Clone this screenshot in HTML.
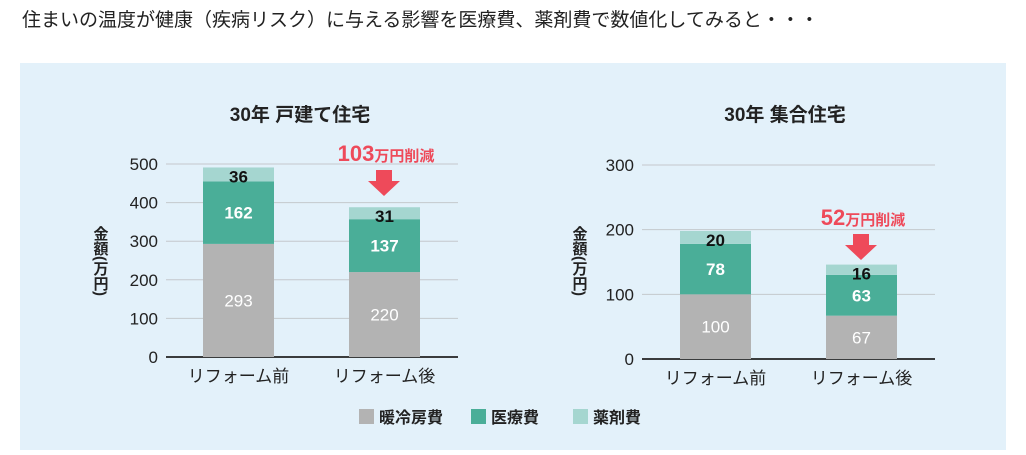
<!DOCTYPE html>
<html><head><meta charset="utf-8"><style>
body{margin:0;width:1026px;height:450px;background:#fff;overflow:hidden;font-family:"Liberation Sans","Noto Sans CJK JP",sans-serif;}
svg text{font-family:"Liberation Sans","Noto Sans CJK JP",sans-serif;}
</style></head><body>
<svg width="1026" height="450">
<text x="22" y="26" font-size="19" fill="#222">住まいの温度が健康（疾病リスク）に与える影響を医療費、薬剤費で数値化してみると・・・</text>
<rect x="20" y="63" width="986" height="387" fill="#e3f1fa"/>
<g id="c1"></g><g id="c2"></g>
<g>
<rect x="359" y="409" width="15" height="15" fill="#b3b3b3"/>
<text x="379" y="423" font-size="16" font-weight="bold" fill="#222">暖冷房費</text>
<rect x="471" y="409" width="15" height="15" fill="#4aae98"/>
<text x="491" y="423" font-size="16" font-weight="bold" fill="#222">医療費</text>
<rect x="573" y="409" width="15" height="15" fill="#a5d6d0"/>
<text x="593" y="423" font-size="16" font-weight="bold" fill="#222">薬剤費</text>
</g>
</svg>
<script>
const categories=["リフォーム前","リフォーム後"];
const detachedHeating=[293,220];
const detachedMedical=[162,137];
const detachedDrug=[36,31];
const detachedTicks=[0,100,200,300,400,500];
const apartHeating=[100,67];
const apartMedical=[78,63];
const apartDrug=[20,16];
const apartTicks=[0,100,200,300];
const NS="http://www.w3.org/2000/svg";
function mk(p,tag,a,txt){const e=document.createElementNS(NS,tag);for(const k in a)e.setAttribute(k,a[k]);if(txt!=null)e.textContent=txt;p.appendChild(e);return e;}
function draw(gid,o){
 const g=document.getElementById(gid);
 const y=v=>o.y0-(v/o.max)*(o.y0-o.yTop);
 const t=mk(g,'text',{x:o.cx,y:o.titleY,'text-anchor':'middle','font-size':19,'font-weight':'bold',fill:'#222'},o.title);
 
 
 o.ticks.forEach(v=>{
  const l=mk(g,'line',{x1:o.x0,x2:o.x1,y1:y(v),y2:y(v),stroke:v===0?'#222':'#c4c8cc','stroke-width':v===0?1.8:1});
  
  
  const tl=mk(g,'text',{x:o.x0-8,y:y(v)+6,'text-anchor':'end','font-size':17,fill:'#222'},v);
  
  
 });
 const yt=mk(g,'text',{x:o.ytx,y:o.yty,'font-size':15,'font-weight':'bold',fill:'#222','writing-mode':'tb'},'金額(万円)');
 
 
 categories.forEach((c,i)=>{
  const bx=o.bars[i],bw=71;
  const segs=[[o.h[i],'#b3b3b3','#fff','heating'],[o.m[i],'#4aae98','#fff','medical'],[o.d[i],'#a5d6d0','#111','drug']];
  let base=0;
  segs.forEach(s=>{
   const r=mk(g,'rect',{x:bx,y:y(base+s[0]),width:bw,height:y(base)-y(base+s[0]),fill:s[1]});
   
   
   const ty=s[3]==='drug'?y(base+s[0])+15:(y(base)+y(base+s[0]))/2+6;
   const lt=mk(g,'text',{x:bx+bw/2,y:ty,'text-anchor':'middle','font-size':17,'font-weight':s[3]==='heating'?'normal':'bold',fill:s[2]},s[0]);
   
   
   base+=s[0];
  });
  const cl=mk(g,'text',{x:bx+bw/2,y:o.y0+25,'text-anchor':'middle','font-size':17,fill:'#222'},c);
  
  
 });
 const ax=o.bars[1]+35;
 const arr=mk(g,'path',{d:`M${ax-8} ${o.ay} h16 v11 h8 l-16 15 l-16 -15 h8 z`,fill:'#ee4a5a'});
 
 
 const rt=mk(g,'text',{x:ax+2,y:o.ay-9,'text-anchor':'middle','font-weight':'bold',fill:'#ee4a5a'});
 
 
 mk(rt,'tspan',{'font-size':22},o.red);
 mk(rt,'tspan',{'font-size':15},'万円削減');
}
const sum=(a,b,c,i)=>a[i]+b[i]+c[i];
draw('c1',{title:'30年 戸建て住宅',cx:300,titleY:121,x0:166,x1:458,y0:357,yTop:164,max:500,ticks:detachedTicks,bars:[203,349],h:detachedHeating,m:detachedMedical,d:detachedDrug,ytx:100,yty:226,ay:170,red:sum(detachedHeating,detachedMedical,detachedDrug,0)-sum(detachedHeating,detachedMedical,detachedDrug,1)});
draw('c2',{title:'30年 集合住宅',cx:785,titleY:121,x0:642,x1:935,y0:359,yTop:165,max:300,ticks:apartTicks,bars:[680,826],h:apartHeating,m:apartMedical,d:apartDrug,ytx:579,yty:226,ay:234,red:sum(apartHeating,apartMedical,apartDrug,0)-sum(apartHeating,apartMedical,apartDrug,1)});
</script>
</body></html>
